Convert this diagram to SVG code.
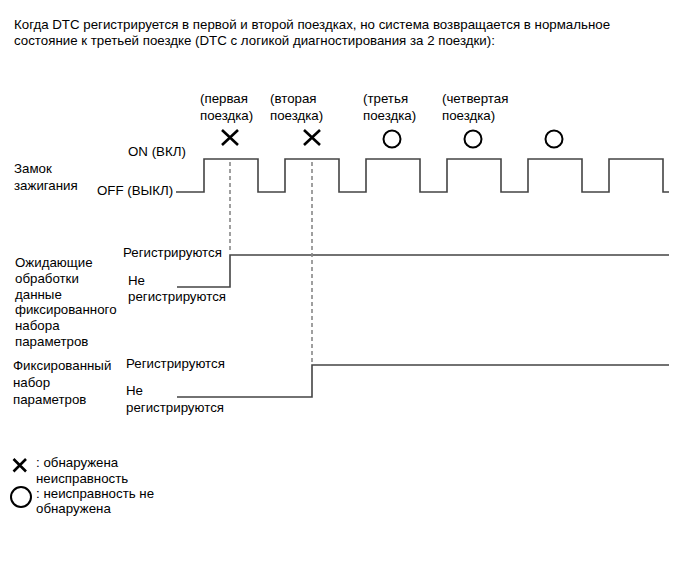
<svg xmlns="http://www.w3.org/2000/svg" width="691" height="564" viewBox="0 0 691 564">
<style>
text{font-family:"Liberation Sans",Arial,sans-serif;font-size:13.3px;fill:#000}
.sig{fill:none;stroke:#444;stroke-width:1.6}
.dash{fill:none;stroke:#888;stroke-width:1.6;stroke-dasharray:4 3}
.x{stroke:#000;stroke-width:2.6;fill:none}
.o{stroke:#000;stroke-width:2;fill:none}
</style>
<rect width="691" height="564" fill="#fff"/>
<g id="title">
<text x="14" y="29">Когда DTC регистрируется в первой и второй поездках, но система возвращается в нормальное</text>
<text x="14" y="45">состояние к третьей поездке (DTC с логикой диагностирования за 2 поездки):</text>
</g>
<g id="trips">
<text x="200" y="103">(первая</text><text x="200" y="120">поездка)</text>
<text x="270" y="103">(вторая</text><text x="270" y="120">поездка)</text>
<text x="363" y="103">(третья</text><text x="363" y="120">поездка)</text>
<text x="442" y="103">(четвертая</text><text x="442" y="120">поездка)</text>
<path class="x" d="M222,130 L238,145 M238,130 L222,145"/>
<path class="x" d="M304,130 L320,145 M320,130 L304,145"/>
<circle class="o" cx="392" cy="139" r="8.5"/>
<circle class="o" cx="473" cy="139" r="8.5"/>
<circle class="o" cx="554" cy="139" r="8.5"/>
</g>
<g id="ignition">
<text x="14" y="173">Замок</text>
<text x="14" y="190">зажигания</text>
<text x="128" y="156">ON (ВКЛ)</text>
<text x="97" y="195">OFF (ВЫКЛ)</text>
</g>
<g id="pending">
<text x="15" y="267">Ожидающие</text>
<text x="15" y="283">обработки</text>
<text x="15" y="298.5">данные</text>
<text x="15" y="314">фиксированного</text>
<text x="15" y="330">набора</text>
<text x="15" y="345.5">параметров</text>
<text x="123" y="257">Регистрируются</text>
<text x="128" y="285">Не</text>
<text x="128" y="301">регистрируются</text>
</g>
<g id="freeze">
<text x="13" y="370">Фиксированный</text>
<text x="13" y="387">набор</text>
<text x="13" y="404">параметров</text>
<text x="126" y="368">Регистрируются</text>
<text x="126" y="395">Не</text>
<text x="126" y="412">регистрируются</text>
</g>
<g id="connectors">
<path class="sig" d="M176,192 H204 V159 H258 V192 H285 V159 H339 V192 H366 V159 H420 V192 H447 V159 H501 V192 H528 V159 H582 V192 H609 V159 H663 V192 H669"/>
<path class="sig" d="M177,287 H230 V255 H669"/>
<path class="sig" d="M177,397 H312 V365 H669"/>
<path class="dash" d="M230,162 V253"/>
<path class="dash" d="M312,162 V363"/>
</g>
<g id="legend">
<path class="x" d="M13.5,459 L26,471.5 M26,459 L13.5,471.5"/>
<text x="36" y="467">: обнаружена</text>
<text x="36" y="482.5">неисправность</text>
<circle class="o" cx="21" cy="497" r="10"/>
<text x="36" y="497.5">: неисправность не</text>
<text x="36" y="513">обнаружена</text>
</g>
</svg>
